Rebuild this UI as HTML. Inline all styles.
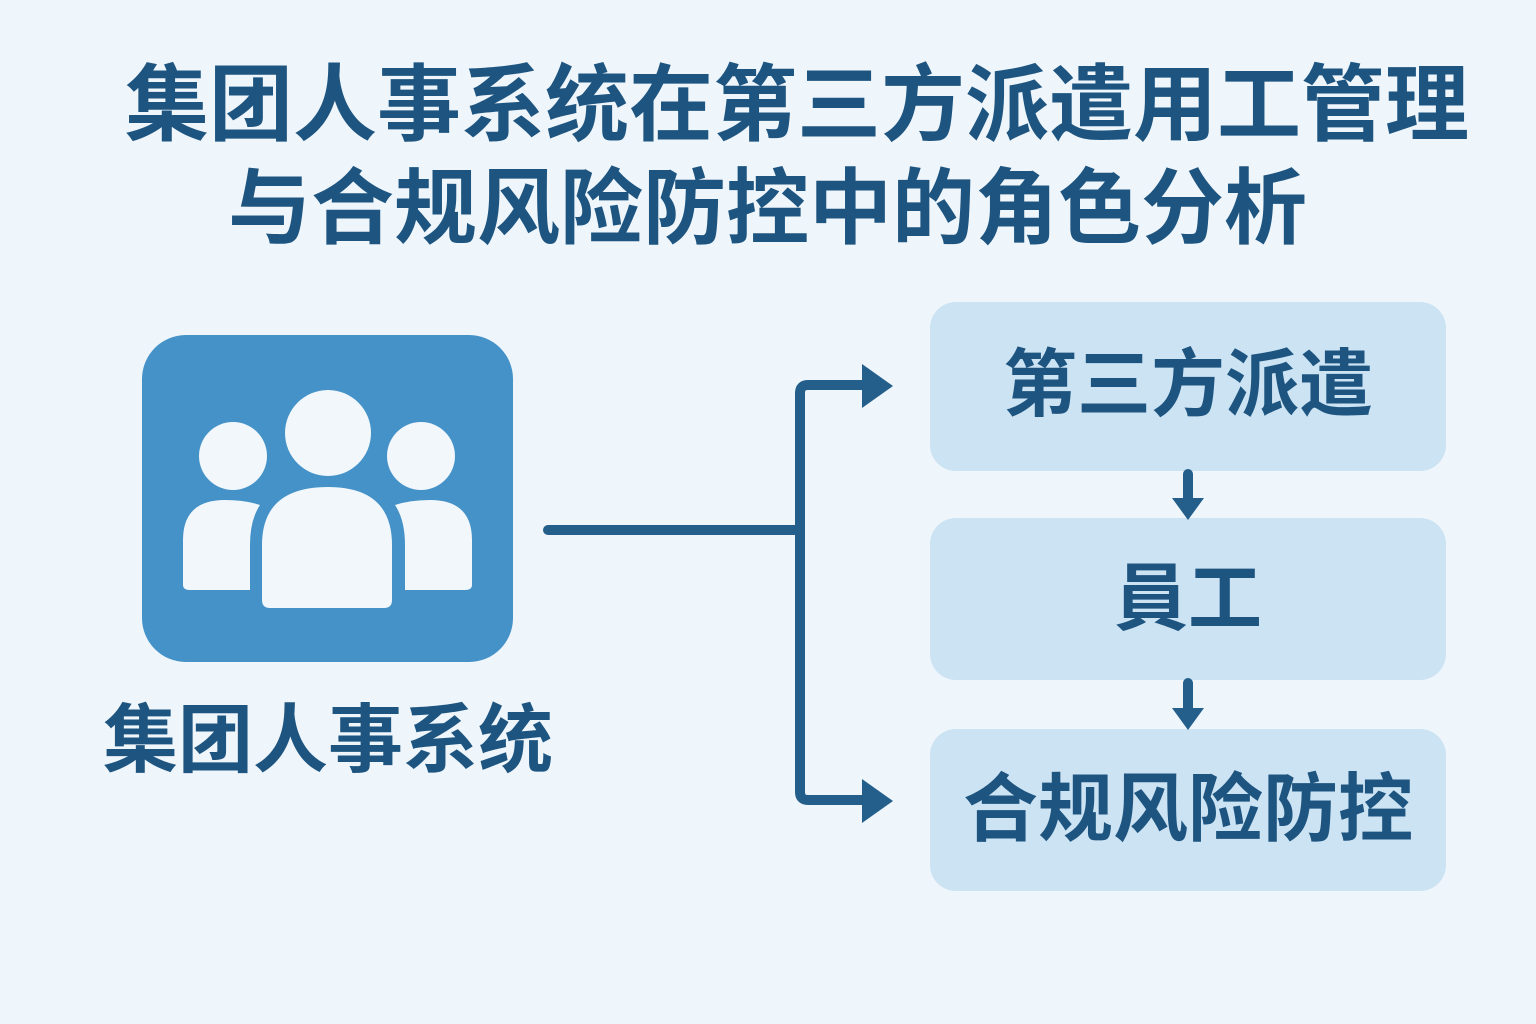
<!DOCTYPE html>
<html><head><meta charset="utf-8"><style>
html,body{margin:0;padding:0;}
body{width:1536px;height:1024px;background:#eef5fb;position:relative;overflow:hidden;font-family:"Liberation Sans","Noto Sans CJK SC",sans-serif;}
.t{position:absolute;color:#1e5580;font-weight:700;white-space:nowrap;line-height:1;}
</style></head><body>
<svg width="1536" height="1024" style="position:absolute;left:0;top:0">
<rect x="142" y="335" width="371" height="327" rx="44" fill="#4592c8"/>
<g fill="#f1f7fb">
<circle cx="328" cy="433" r="43"/>
<circle cx="233" cy="456" r="34"/>
<circle cx="421" cy="456" r="34"/>
<path d="M262 600 L262 545 Q262 487 328 487 Q392 487 392 545 L392 600 Q392 608 384 608 L270 608 Q262 608 262 600Z"/>
<path d="M183 585 L183 540 Q183 500 225 500 Q245 500 260 505 Q250 520 250 545 L250 590 L190 590 Q183 590 183 585Z"/>
<path d="M472 585 L472 540 Q472 500 430 500 Q410 500 395 505 Q405 520 405 545 L405 590 L465 590 Q472 590 472 585Z"/>
</g>
<rect x="930" y="302" width="516" height="169" rx="26" fill="#cce3f3"/>
<rect x="930" y="518" width="516" height="162" rx="26" fill="#cce3f3"/>
<rect x="930" y="729" width="516" height="162" rx="26" fill="#cce3f3"/>
<g stroke="#245f8c" stroke-width="10" fill="none" stroke-linecap="round" stroke-linejoin="round">
<line x1="548" y1="530" x2="800" y2="530"/>
<path d="M868 385 L808 385 Q800 385 800 393 L800 792 Q800 800 808 800 L868 800"/>
<line x1="1188" y1="474" x2="1188" y2="500"/>
<line x1="1188" y1="683" x2="1188" y2="712"/>
</g>
<g fill="#245f8c">
<polygon points="862,364 893,386 862,408"/>
<polygon points="862,779 893,801 862,823"/>
<polygon points="1172,498 1204,498 1188,520"/>
<polygon points="1172,708 1204,708 1188,730"/>
</g>
</svg>
<div class="t" style="left:125px;top:63px;font-size:84px;">集团人事系统在第三方派遣用工管理</div>
<div class="t" style="left:228px;top:167px;font-size:83px;">与合规风险防控中的角色分析</div>
<div class="t" style="left:103px;top:703px;font-size:75px;">集团人事系统</div>
<div class="t" style="left:930px;width:516px;text-align:center;top:348px;font-size:74px;">第三方派遣</div>
<div class="t" style="left:930px;width:516px;text-align:center;top:562px;font-size:74px;">員工</div>
<div class="t" style="left:930px;width:516px;text-align:center;top:772px;font-size:75px;">合规风险防控</div>
</body></html>
